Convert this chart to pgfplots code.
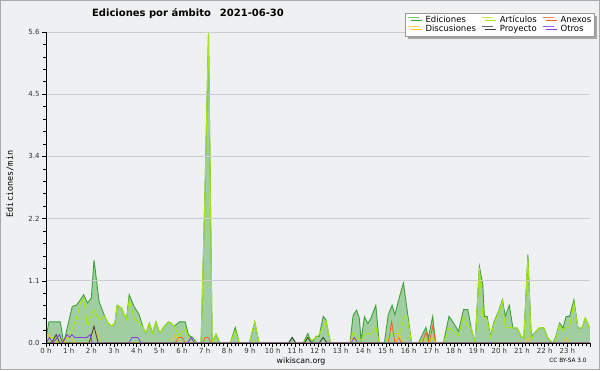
\documentclass[border=0pt]{standalone}
\usepackage{fontspec}
\setmainfont{DejaVu Sans}
\newfontfamily\monofont{DejaVu Sans Mono}
\usepackage{pgfplots}
\pgfplotsset{compat=1.18}
\usepackage{pgfplotstable}
\usetikzlibrary{shadows}

\definecolor{bgc}{RGB}{239,240,241}
\definecolor{bordc}{RGB}{170,170,170}
\definecolor{gridc}{RGB}{204,204,204}
\definecolor{totc}{RGB}{60,160,60}
\definecolor{fillc}{RGB}{160,206,160}
\definecolor{artc}{RGB}{165,232,20}
\definecolor{anxc}{RGB}{240,100,30}
\definecolor{disc}{RGB}{240,200,40}
\definecolor{proc}{RGB}{60,60,60}
\definecolor{otrc}{RGB}{130,60,230}
\definecolor{ltot}{RGB}{130,200,130}
\definecolor{lart}{RGB}{200,240,80}
\definecolor{lanx}{RGB}{240,130,80}
\definecolor{ldis}{RGB}{245,210,80}
\definecolor{lpro}{RGB}{100,100,100}
\definecolor{lotr}{RGB}{150,90,240}

\pgfplotstableread{
h v
0.00 0.1
0.13 0.38
0.63 0.38
0.78 0
1.16 0.66
1.34 0.68
1.52 0.78
1.66 0.87
1.83 0.72
2.00 0.81
2.12 1.49
2.34 0.75
2.59 0.48
2.74 0.36
2.89 0.30
3.04 0.36
3.14 0.68
3.33 0.63
3.55 0.42
3.67 0.87
3.88 0.66
4.11 0.51
4.29 0.27
4.41 0.18
4.56 0.36
4.70 0.18
4.85 0.38
5.02 0.18
5.22 0.30
5.41 0.38
5.51 0.36
5.66 0.30
5.88 0.38
6.14 0.38
6.29 0.14
6.47 0.10
6.66 0
6.84 0
7.00 2.5
7.17 5.6
7.33 0
7.50 0.16
7.68 0
8.13 0
8.35 0.28
8.53 0
8.97 0
9.21 0.38
9.40 0
10.70 0
10.86 0.1
11.02 0
11.35 0
11.55 0.17
11.72 0
11.92 0.12
12.05 0.12
12.23 0.48
12.35 0.42
12.55 0
13.41 0
13.55 0.5
13.70 0.59
13.82 0.45
13.90 0.05
14.05 0.47
14.20 0.35
14.34 0.45
14.55 0.68
14.70 0
14.93 0
15.10 0.51
15.27 0.68
15.39 0.51
15.62 0.87
15.77 1.08
15.91 0.66
16.13 0
16.43 0
16.76 0.28
16.87 0.09
17.06 0.48
17.19 0
17.53 0
17.78 0.48
17.98 0.36
18.20 0.21
18.42 0.6
18.61 0.6
18.76 0.27
18.93 0
19.12 1.38
19.27 1.05
19.34 0.48
19.46 0.48
19.61 0.12
19.75 0.36
19.96 0.57
20.14 0.78
20.26 0.48
20.44 0.68
20.60 0.27
20.79 0.27
20.96 0.12
21.08 0.09
21.26 1.59
21.41 0.12
21.55 0.18
21.78 0.28
21.97 0.27
22.14 0.09
22.36 0
22.47 0.09
22.66 0.36
22.81 0.27
22.95 0.48
23.10 0.48
23.29 0.78
23.47 0.27
23.65 0.27
23.79 0.45
23.99 0.27
}\total

\pgfplotstableread{
h v
0.00 0
0.13 0.1
0.30 0.1
0.45 0
0.63 0.1
0.78 0
0.95 0.1
1.16 0.25
1.34 0.45
1.52 0.72
1.66 0.8
1.83 0.3
2.00 0.5
2.12 0.6
2.34 0.42
2.59 0.48
2.74 0.36
2.89 0.30
3.04 0.36
3.14 0.68
3.33 0.63
3.55 0.42
3.67 0.78
3.88 0.45
4.11 0.36
4.29 0.27
4.41 0.18
4.56 0.36
4.70 0.18
4.85 0.38
5.02 0.18
5.22 0.30
5.41 0.38
5.51 0.36
5.66 0.30
5.88 0.12
6.14 0.27
6.29 0.1
6.47 0.05
6.66 0
6.84 0
7.00 2.5
7.17 5.6
7.33 0
7.50 0.16
7.68 0
8.13 0
8.35 0.22
8.53 0
8.97 0
9.21 0.38
9.40 0
11.35 0
11.55 0.1
11.72 0.05
11.92 0.1
12.05 0.15
12.23 0.3
12.35 0.4
12.55 0
13.41 0
13.55 0.2
13.70 0.1
13.90 0.05
14.06 0.16
14.34 0.16
14.56 0.28
14.70 0
14.93 0
15.10 0.09
15.25 0.16
15.62 0.18
15.81 0.48
15.93 0.48
16.13 0
16.43 0
16.72 0.09
16.87 0.02
17.06 0.09
17.19 0
17.53 0
17.78 0.27
17.98 0.21
18.20 0.14
18.42 0.48
18.61 0.28
18.76 0.28
18.93 0
19.12 1.35
19.27 0.48
19.34 0.45
19.46 0.42
19.61 0.1
19.75 0.33
19.96 0.55
20.14 0.75
20.26 0.28
20.44 0.28
20.60 0.27
20.79 0.27
20.96 0.12
21.08 0.09
21.26 1.53
21.41 0.06
21.55 0.18
21.78 0.28
21.97 0.27
22.14 0.09
22.36 0
22.47 0.06
22.66 0.33
22.81 0.22
22.95 0.28
23.10 0.28
23.29 0.72
23.47 0.27
23.65 0.27
23.79 0.45
23.99 0.27
}\articulos

\pgfplotstableread{
h v
0 0
5.70 0
5.85 0.1
6.00 0.1
6.15 0
6.90 0
7.02 0.1
7.15 0.1
7.30 0
15.10 0
15.25 0.38
15.39 0
15.55 0.1
15.70 0
16.60 0
16.76 0.2
16.90 0
17.06 0.3
17.20 0
24 0
}\anexos

\pgfplotstableread{
h v
0 0
0.13 0.15
0.30 0
0.45 0.1
0.63 0
0.78 0
0.95 0.1
1.10 0.12
1.25 0
1.90 0
2.00 0.1
2.12 0.3
2.30 0.1
2.45 0
5.50 0
5.66 0.15
5.80 0.1
5.95 0
13.40 0
13.55 0.1
13.70 0
15.40 0
15.60 0.15
15.77 0
16.90 0
17.06 0.1
17.20 0
21.10 0
21.26 0.1
21.41 0
22.80 0
22.95 0.1
23.10 0
24 0
}\discusiones

\pgfplotstableread{
h v
0 0
0.25 0
0.45 0.15
0.60 0
1.90 0
2.12 0.3
2.30 0
10.70 0
10.86 0.1
11.02 0
11.40 0
11.55 0.1
11.72 0
12.05 0
12.23 0.1
12.40 0
24 0
}\proyecto

\pgfplotstableread{
h v
0 0
0.15 0.1
0.30 0
0.60 0.15
0.73 0
0.93 0.15
1.05 0.1
1.13 0.15
1.27 0.1
1.80 0.1
1.95 0.15
2.04 0
3.65 0
3.80 0.1
4.05 0.1
4.20 0
6.25 0
6.40 0.1
6.55 0
13.45 0
13.60 0.1
13.75 0
24 0
}\otros

\begin{document}
\begin{tikzpicture}[x=1pt,y=1pt]
\useasboundingbox (0,0) rectangle (600,370);
\fill[bgc] (0,0) rectangle (600,370);
\draw[bordc, line width=1.2pt] (0.6,0.6) rectangle (599.4,369.4);
\begin{axis}[
  at={(46pt,27pt)}, anchor=south west, scale only axis,
  width=544pt, height=311pt,
  xmin=0, xmax=24, ymin=0, ymax=5.6,
  axis lines*=left,
  axis line style={-, line width=1pt, black},
  axis on top,
  tick align=outside,
  major tick length=4pt, minor tick length=3pt,
  tick style={black, line width=0.6pt},
  xtick={0,...,24},
  xticklabels={0 h,1 h,2 h,3 h,4 h,5 h,6 h,7 h,8 h,9 h,10 h,11 h,12 h,13 h,14 h,15 h,16 h,17 h,18 h,19 h,20 h,21 h,22 h,23 h,},
  minor x tick num=5,
  ytick={0,1.12,2.24,3.36,4.48,5.6},
  yticklabels={0.0,1.1,2.2,3.4,4.5,5.6},
  minor y tick num=4,
  ymajorgrids,
  grid style={gridc, line width=0.7pt},
  ticklabel style={font=\fontsize{7}{8}\selectfont, text=black!80},
  xticklabel style={yshift=2pt},
  yticklabel style={xshift=1pt},
  legend columns=3,
  legend cell align=left,
  legend style={at={(1.0074,1.062)}, anchor=north east, draw=gray!80, fill=white,
    font=\fontsize{8.5}{9}\selectfont, inner sep=2pt, row sep=0pt,
    nodes={text height=7pt, text depth=1.5pt, inner sep=0.5pt},
    /tikz/every odd column/.append style={column sep=6pt},
    /tikz/every even column/.append style={column sep=5pt},
    drop shadow={shadow xshift=3pt, shadow yshift=-3pt, fill=gray!70, opacity=1}},
]
\addplot[fill=fillc, draw=none, forget plot] table[x=h,y=v] {\total} \closedcycle;
\addplot[totc, line width=0.9pt, legend image code/.code={\draw[ltot, line width=0.8pt] (0pt,2.5pt) -- (11pt,2.5pt);}] table[x=h,y=v] {\total};
\addlegendentry{Ediciones}
\addplot[artc, line width=0.9pt, legend image code/.code={\draw[lart, line width=0.8pt] (0pt,2.5pt) -- (11pt,2.5pt);}] table[x=h,y=v] {\articulos};
\addlegendentry{Artículos}
\addplot[anxc, line width=0.8pt, legend image code/.code={\draw[lanx, line width=0.8pt] (0pt,2.5pt) -- (11pt,2.5pt);}] table[x=h,y=v] {\anexos};
\addlegendentry{Anexos}
\addplot[disc, line width=0.8pt, legend image code/.code={\draw[ldis, line width=0.8pt] (0pt,2.5pt) -- (11pt,2.5pt);}] table[x=h,y=v] {\discusiones};
\addlegendentry{Discusiones}
\addplot[proc, line width=0.8pt, legend image code/.code={\draw[lpro, line width=0.8pt] (0pt,2.5pt) -- (11pt,2.5pt);}] table[x=h,y=v] {\proyecto};
\addlegendentry{Proyecto}
\addplot[otrc, line width=0.8pt, legend image code/.code={\draw[lotr, line width=0.8pt] (0pt,2.5pt) -- (11pt,2.5pt);}] table[x=h,y=v] {\otros};
\addlegendentry{Otros}
\end{axis}
\node[font=\bfseries\fontsize{10}{12}\selectfont] at (188,356.5) {Ediciones por ámbito\hspace{0.9em}2021-06-30};
\node[rotate=90, font=\monofont\fontsize{8.5}{10}\selectfont] at (10,186) {Ediciones/min};
\node[font=\fontsize{7.8}{9}\selectfont] at (301,9) {wikiscan.org};
\node[font=\fontsize{5.8}{7}\selectfont] at (568,9.5) {CC BY-SA 3.0};
\end{tikzpicture}
\end{document}
